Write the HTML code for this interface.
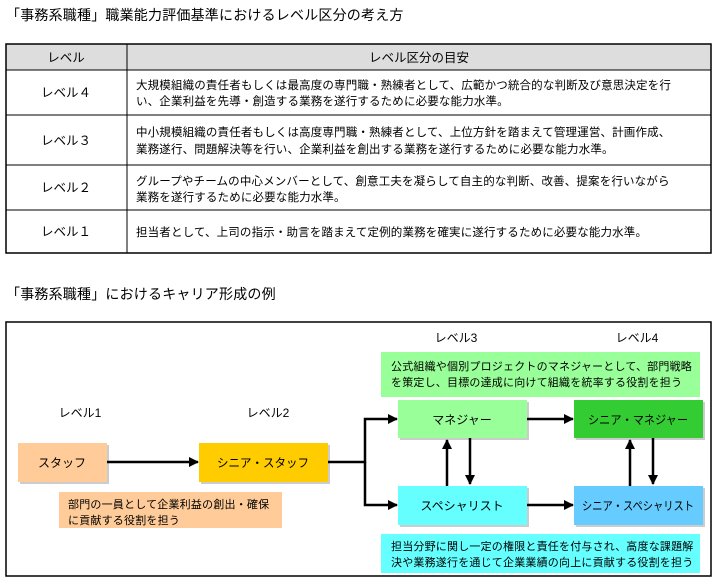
<!DOCTYPE html>
<html><head><meta charset="utf-8"><style>
html,body{margin:0;padding:0;background:#fff;}
svg text{font-family:"Liberation Sans","Noto Sans CJK JP",sans-serif;fill:#000;}
</style></head><body>
<svg width="716" height="580" viewBox="0 0 716 580" xmlns="http://www.w3.org/2000/svg">
<defs><marker id="a" viewBox="0 0 10 10" refX="9" refY="5" markerWidth="4" markerHeight="4" orient="auto"><path d="M0,0 L10,5 L0,10 z" fill="#000"/></marker></defs>
<text x="6" y="20" font-size="14" letter-spacing="0.2">「事務系職種」職業能力評価基準におけるレベル区分の考え方</text>
<rect x="6" y="44" width="705" height="26" fill="#ddd"/>
<rect x="6" y="44" width="705" height="209" fill="none" stroke="#000" stroke-width="1.5"/>
<line x1="127" y1="44" x2="127" y2="253" stroke="#000"/>
<line x1="6" y1="70" x2="711" y2="70" stroke="#000"/>
<line x1="6" y1="115" x2="711" y2="115" stroke="#000"/>
<line x1="6" y1="165" x2="711" y2="165" stroke="#000"/>
<line x1="6" y1="210" x2="711" y2="210" stroke="#000"/>
<g font-size="12.5" text-anchor="middle">
<text x="66" y="62">レベル</text><text x="419" y="62">レベル区分の目安</text>
<text x="66" y="97">レベル４</text><text x="66" y="145">レベル３</text>
<text x="66" y="192">レベル２</text><text x="66" y="236">レベル１</text>
</g>
<g font-size="11.5" letter-spacing="0.15">
<text x="136" y="89">大規模組織の責任者もしくは最高度の専門職・熟練者として、広範かつ統合的な判断及び意思決定を行</text>
<text x="136" y="105">い、企業利益を先導・創造する業務を遂行するために必要な能力水準。</text>
<text x="136" y="136">中小規模組織の責任者もしくは高度専門職・熟練者として、上位方針を踏まえて管理運営、計画作成、</text>
<text x="136" y="153">業務遂行、問題解決等を行い、企業利益を創出する業務を遂行するために必要な能力水準。</text>
<text x="136" y="185">グループやチームの中心メンバーとして、創意工夫を凝らして自主的な判断、改善、提案を行いながら</text>
<text x="136" y="201">業務を遂行するために必要な能力水準。</text>
<text x="136" y="236">担当者として、上司の指示・助言を踏まえて定例的業務を確実に遂行するために必要な能力水準。</text>
</g>
<text x="6" y="299" font-size="14" letter-spacing="0.2">「事務系職種」におけるキャリア形成の例</text>
<rect x="6" y="322" width="705" height="254" fill="none" stroke="#000" stroke-width="1.5"/>
<g font-size="12" text-anchor="middle">
<text x="80" y="417">レベル1</text><text x="268" y="417">レベル2</text>
<text x="456" y="342">レベル3</text><text x="637" y="342">レベル4</text>
</g>
<rect x="381" y="352" width="319" height="45" fill="#99FF99"/>
<rect x="381" y="534" width="319" height="39" fill="#66FFFF"/>
<rect x="59" y="492" width="223" height="36" fill="#FFCC99"/>
<g font-size="11" letter-spacing="0.2">
<text x="391" y="370">公式組織や個別プロジェクトのマネジャーとして、部門戦略</text>
<text x="391" y="386">を策定し、目標の達成に向けて組織を統率する役割を担う</text>
<text x="391" y="550">担当分野に関し一定の権限と責任を付与され、高度な課題解</text>
<text x="391" y="566">決や業務遂行を通じて企業業績の向上に貢献する役割を担う</text>
<text x="68" y="508">部門の一員として企業利益の創出・確保</text>
<text x="68" y="524">に貢献する役割を担う</text>
</g>
<g fill="#ccc"><rect x="20" y="445" width="89" height="39"/><rect x="201" y="445" width="129" height="39"/><rect x="400" y="402" width="129" height="38"/><rect x="576" y="402" width="129" height="38"/><rect x="400" y="488" width="129" height="39"/><rect x="576" y="488" width="129" height="39"/></g>
<rect x="18" y="443" width="89" height="39" fill="#FFCC99"/>
<rect x="199" y="443" width="129" height="39" fill="#FFCC00"/>
<rect x="398" y="400" width="129" height="38" fill="#99FF99"/>
<rect x="574" y="400" width="129" height="38" fill="#33CC33"/>
<rect x="398" y="486" width="129" height="39" fill="#66FFFF"/>
<rect x="574" y="486" width="129" height="39" fill="#66CCFF"/>
<g font-size="12" text-anchor="middle">
<text x="62" y="467">スタッフ</text><text x="263" y="467" textLength="92" lengthAdjust="spacingAndGlyphs">シニア・スタッフ</text>
<text x="462" y="424">マネジャー</text><text x="638" y="424" textLength="100" lengthAdjust="spacingAndGlyphs">シニア・マネジャー</text>
<text x="462" y="510">スペシャリスト</text><text x="638" y="510" textLength="112" lengthAdjust="spacingAndGlyphs">シニア・スペシャリスト</text>
</g>
<g stroke="#000" stroke-width="2.5" fill="none" marker-end="url(#a)">
<line x1="107" y1="462" x2="198" y2="462"/>
<polyline points="328,462 365,462 365,419 397,419"/>
<polyline points="365,462 365,505 397,505"/>
<line x1="527" y1="419" x2="573" y2="419"/>
<line x1="527" y1="505" x2="573" y2="505"/>
<line x1="447" y1="486" x2="447" y2="440"/>
<line x1="470" y1="438" x2="470" y2="484"/>
<line x1="630" y1="486" x2="630" y2="440"/>
<line x1="653" y1="438" x2="653" y2="484"/>
</g>
</svg>
</body></html>
